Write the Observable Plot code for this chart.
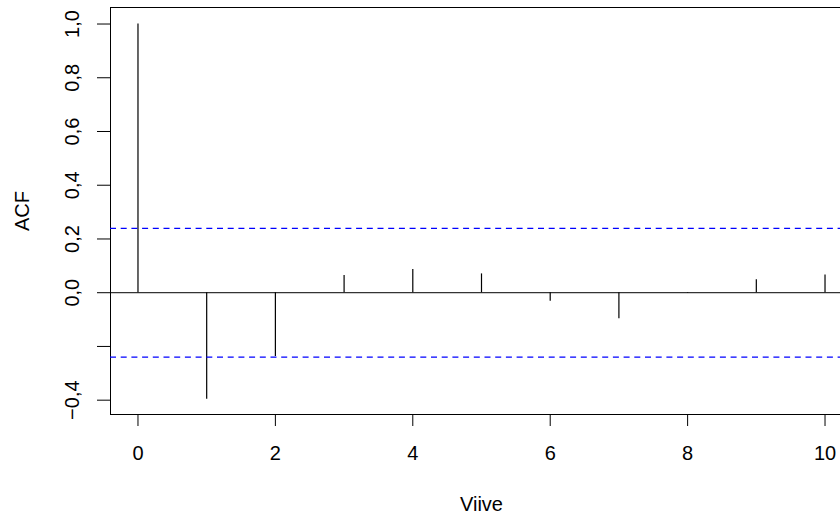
<!DOCTYPE html>
<html>
<head>
<meta charset="utf-8">
<script src="https://cdn.jsdelivr.net/npm/d3@7"></script>
<script src="https://cdn.jsdelivr.net/npm/@observablehq/plot@0.6"></script>
<style>
  html, body { margin: 0; padding: 0; overflow: hidden; background: #fff; width: 840px; }
  svg { display: block; max-width: none !important; }
</style>
</head>
<body>
<div id="chart"></div>
<script>
// Lags and autocorrelation values
const lags = [0, 1, 2, 3, 4, 5, 6, 7, 8, 9, 10];
const acfValues = [1.0, -0.397, -0.237, 0.064, 0.086, 0.070, -0.032, -0.097, -0.002, 0.048, 0.066];
// Confidence bound (±)
const ciBound = [0.2395, -0.2395];
// Tick values and labels
const xTicks = [0, 2, 4, 6, 8, 10];
const yTicks = [-0.4, -0.2, 0, 0.2, 0.4, 0.6, 0.8, 1.0];
const yTickLabels = ["\u22120,4", "", "0,0", "0,2", "0,4", "0,6", "0,8", "1,0"];
const xTitle = "Viive";
const yTitle = "ACF";

const data = lags.map((lag, i) => ({lag, acf: acfValues[i]}));
const yLabel = d => yTickLabels[yTicks.findIndex(t => Math.abs(t - d) < 1e-9)];

const chart = Plot.plot({
  width: 870,
  height: 516,
  marginLeft: 110,
  marginRight: 18,
  marginTop: 7,
  marginBottom: 102,
  style: {fontFamily: "'Liberation Sans', Arial, sans-serif", fontSize: "20px", color: "black", background: "white", maxWidth: "none"},
  x: {domain: [-0.4, 10.4]},
  y: {domain: [-0.4533, 1.0615]},
  marks: [
    Plot.frame({stroke: "black"}),
    Plot.ruleY([0], {stroke: "black"}),
    Plot.ruleX(data, {x: "lag", y1: 0, y2: "acf", stroke: "black", strokeWidth: 1.2}),
    Plot.ruleY(ciBound, {stroke: "#0000ff", strokeDasharray: "6,4.7", strokeWidth: 1.2}),
    Plot.axisX({
      ticks: xTicks, tickSize: 12, tickPadding: 19, fontSize: 20,
      tickFormat: d => String(d),
      label: xTitle, labelAnchor: "center", labelOffset: 96, labelArrow: "none"
    }),
    Plot.axisY({
      ticks: yTicks, tickSize: 13, fontSize: 20,
      tickFormat: () => "",
      label: yTitle, labelAnchor: "center", labelOffset: 96, labelArrow: "none"
    }),
    Plot.axisY({
      ticks: yTicks, tickSize: 0, tickPadding: 38, fontSize: 20,
      tickFormat: yLabel,
      rotate: -90, textAnchor: "middle",
      label: null
    })
  ]
});
document.getElementById("chart").appendChild(chart);
</script>
</body>
</html>
